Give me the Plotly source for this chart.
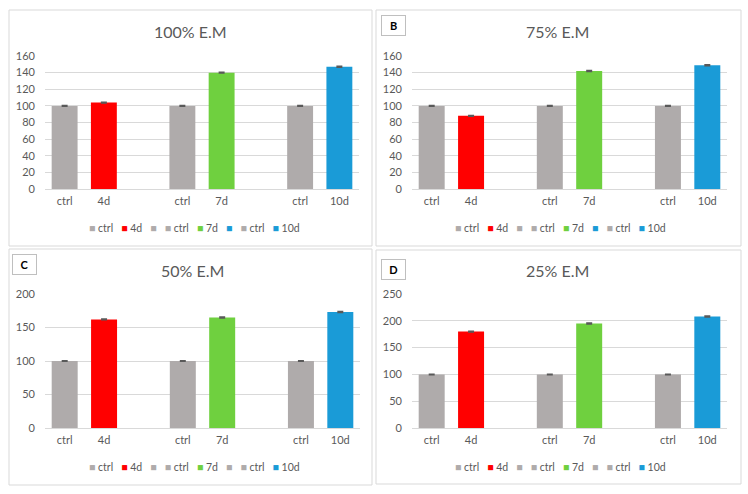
import plotly.graph_objects as go

# ---------------- data ----------------
categories = ["ctrl", "4d", "", "ctrl", "7d", "", "ctrl", "10d"]
positions = list(range(len(categories)))

vals_100 = [100, 104, None, 100, 140, None, 100, 147]
vals_75 = [100, 88, None, 100, 142, None, 100, 149]
vals_50 = [100, 162, None, 100, 165, None, 100, 173]
vals_25 = [100, 180, None, 100, 195, None, 100, 208]

err_100 = [0.5, 0.5, 0, 0.5, 0.6, 0, 0.5, 0.6]
err_75 = [0.5, 0.5, 0, 0.5, 0.6, 0, 0.5, 0.6]
err_50 = [0.5, 0.6, 0, 0.5, 0.7, 0, 0.5, 0.7]
err_25 = [0.5, 0.7, 0, 0.5, 0.8, 0, 0.5, 0.8]

titles = ["100% E.M", "75% E.M", "50% E.M", "25% E.M"]
panel_labels = [None, "B", "C", "D"]

GRAY = "#AFABAB"
RED = "#FF0000"
GREEN = "#6FD03F"
BLUE = "#1A9BD7"
bar_colors = [GRAY, RED, GRAY, GRAY, GREEN, GRAY, GRAY, BLUE]
legend_colors_ab = [GRAY, RED, GRAY, GRAY, GREEN, BLUE, GRAY, BLUE]
legend_colors_cd = [GRAY, RED, GRAY, GRAY, GREEN, GRAY, GRAY, BLUE]

TXT = "#595959"
GRID = "#D9D9D9"
FONT = "Lato"

W, H = 748, 494


def fx(x):
    return x / W


def fy(y):
    return 1 - y / H


panels = [
    dict(vals=vals_100, err=err_100, ymax=160, dtick=20,
         plot=(45, 359, 56, 189), box=(9, 372, 10, 246),
         title_xy=(190, 32), legend_xy=(194, 228), lab=None,
         lcol=legend_colors_ab),
    dict(vals=vals_75, err=err_75, ymax=160, dtick=20,
         plot=(412, 727, 56, 189), box=(376, 741, 10, 246),
         title_xy=(557, 32), legend_xy=(560, 228), lab=(393.5, 26),
         lcol=legend_colors_ab),
    dict(vals=vals_50, err=err_50, ymax=200, dtick=50,
         plot=(45, 360, 294, 428), box=(9, 372, 249, 485),
         title_xy=(192, 270), legend_xy=(194, 467), lab=(24, 264),
         lcol=legend_colors_cd),
    dict(vals=vals_25, err=err_25, ymax=250, dtick=50,
         plot=(412, 727, 294, 428), box=(376, 741, 250, 484),
         title_xy=(557, 270), legend_xy=(560, 467), lab=(393.5, 269.5),
         lcol=legend_colors_cd),
]

fig = go.Figure()
shapes = []
annotations = []

for i, p in enumerate(panels):
    n = "" if i == 0 else str(i + 1)
    x0, x1, y0, y1 = p["plot"]
    bx0, bx1, by0, by1 = p["box"]
    shapes.append(dict(type="rect", xref="paper", yref="paper",
                       x0=fx(bx0), x1=fx(bx1), y0=fy(by1), y1=fy(by0),
                       line=dict(color=GRID, width=1), fillcolor="white",
                       layer="below"))
    fig.add_trace(go.Bar(
        x=positions, y=p["vals"], width=0.66,
        marker=dict(color=bar_colors, line=dict(width=0)),
        error_y=dict(type="data", array=p["err"], visible=True,
                     color="#595959", thickness=1.5, width=3),
        xaxis="x" + n, yaxis="y" + n, showlegend=False,
        hoverinfo="skip",
    ))
    fig.update_layout(**{
        "xaxis" + n: dict(domain=[fx(x0), fx(x1)], anchor="y" + n,
                          range=[-0.5, len(categories) - 0.5],
                          tickmode="array", tickvals=positions,
                          ticktext=categories, showgrid=False,
                          showline=True, linecolor=GRID, linewidth=1,
                          ticks="", ticklabelstandoff=2, automargin=False,
                          tickfont=dict(family=FONT, size=11, color=TXT),
                          fixedrange=True),
        "yaxis" + n: dict(domain=[fy(y1), fy(y0)], anchor="x" + n,
                          range=[0, p["ymax"]], dtick=p["dtick"],
                          showgrid=True, gridcolor=GRID, gridwidth=1,
                          zeroline=False, showline=False, ticks="",
                          ticklabelstandoff=9, automargin=False,
                          tickfont=dict(family=FONT, size=11, color=TXT),
                          fixedrange=True),
    })
    annotations.append(dict(xref="paper", yref="paper",
                            x=fx(p["title_xy"][0]), y=fy(p["title_xy"][1]),
                            text=titles[i], showarrow=False,
                            font=dict(family=FONT, size=16, color=TXT),
                            xanchor="center", yanchor="middle"))
    if p["lab"] is not None:
        annotations.append(dict(xref="paper", yref="paper",
                                x=fx(p["lab"][0]), y=fy(p["lab"][1]),
                                text="<b>" + panel_labels[i] + "</b>",
                                showarrow=False, bordercolor="#BFBFBF",
                                borderwidth=1, borderpad=3, width=17,
                                bgcolor="white",
                                font=dict(family=FONT, size=11, color="black"),
                                xanchor="center", yanchor="middle"))
    # custom compact legend
    parts = []
    for lab, col in zip(categories, p["lcol"]):
        item = "<span style='color:%s'>■</span>" % col
        if lab:
            item += "\u00a0" + lab
        parts.append(item)
    legend_text = "\u00a0\u00a0\u00a0".join(parts)
    annotations.append(dict(xref="paper", yref="paper",
                            x=fx(p["legend_xy"][0]), y=fy(p["legend_xy"][1]),
                            text=legend_text, showarrow=False,
                            font=dict(family=FONT, size=10.5, color=TXT),
                            xanchor="center", yanchor="middle"))

fig.update_layout(
    template="none",
    width=W, height=H,
    margin=dict(l=0, r=0, t=0, b=0, pad=0, autoexpand=False),
    paper_bgcolor="white", plot_bgcolor="rgba(0,0,0,0)",
    shapes=shapes, annotations=annotations,
    bargap=0.34, showlegend=False,
    font=dict(family=FONT, color=TXT),
)

fig.write_html("out.html",
               config={"displayModeBar": False, "staticPlot": True},
               post_script="document.body.style.margin='0';"
                           "document.body.style.overflow='hidden';")
